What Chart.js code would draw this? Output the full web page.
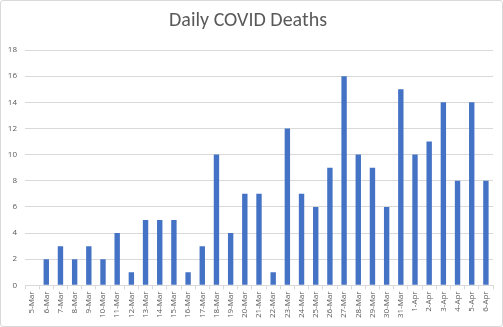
<!DOCTYPE html>
<html>
<head>
<meta charset="utf-8">
<script src="https://cdn.jsdelivr.net/npm/chart.js@4"></script>
<style>
  html, body { margin: 0; padding: 0; background: #fff; }
  #wrap { width: 501px; height: 325px; border: 1px solid #d9d9d9; border-radius: 3px; }
</style>
</head>
<body>
<div id="wrap"><canvas id="bar-chart" width="501" height="325"></canvas></div>
<script>
const days = ['5-Mar', '6-Mar', '7-Mar', '8-Mar', '9-Mar', '10-Mar', '11-Mar', '12-Mar', '13-Mar',
  '14-Mar', '15-Mar', '16-Mar', '17-Mar', '18-Mar', '19-Mar', '20-Mar', '21-Mar', '22-Mar',
  '23-Mar', '24-Mar', '25-Mar', '26-Mar', '27-Mar', '28-Mar', '29-Mar', '30-Mar', '31-Mar',
  '1-Apr', '2-Apr', '3-Apr', '4-Apr', '5-Apr', '6-Apr'];
const deaths = [0, 2, 3, 2, 3, 2, 4, 1, 5, 5, 5, 1, 3, 10, 4, 7, 7, 1,
  12, 7, 6, 9, 16, 10, 9, 6, 15, 10, 11, 14, 8, 14, 8];
const yTicks = [0, 2, 4, 6, 8, 10, 12, 14, 16, 18];

const ctx = document.getElementById('bar-chart');

new Chart(ctx, {
  type: 'bar',
  data: {
    labels: days,
    datasets: [{
      label: 'Daily COVID Deaths',
      data: deaths,
      backgroundColor: '#4472C4',
      barPercentage: 0.38,
      categoryPercentage: 1.0
    }]
  },
  options: {
    responsive: false,
    animation: false,
    layout: { padding: { left: 2, right: 9, top: 4, bottom: 6 } },
    plugins: {
      legend: { display: false },
      tooltip: { enabled: false },
      title: {
        display: true,
        text: 'Daily COVID Deaths',
        color: '#595959',
        font: { family: 'Calibri, Carlito, "Open Sans", sans-serif', size: 20, weight: 'normal' },
        padding: { top: 4, bottom: 17 }
      }
    },
    scales: {
      x: {
        afterFit: axis => { axis.paddingLeft = 0; },
        grid: { display: true, drawOnChartArea: false, offset: true, color: '#d9d9d9', tickLength: 4 },
        border: { color: '#d9d9d9' },
        ticks: {
          color: '#595959',
          font: { family: '"Open Sans", sans-serif', size: 8 },
          maxRotation: 90,
          minRotation: 90,
          autoSkip: false,
          padding: 2
        }
      },
      y: {
        min: 0,
        max: 18,
        afterBuildTicks: axis => { axis.ticks = yTicks.map(v => ({ value: v })); },
        afterFit: axis => { axis.width = 22; },
        grid: { color: '#d9d9d9', drawTicks: false },
        border: { display: false },
        ticks: {
          color: '#595959',
          font: { family: '"Open Sans", sans-serif', size: 8 },
          padding: 8
        }
      }
    }
  }
});
</script>
</body>
</html>
